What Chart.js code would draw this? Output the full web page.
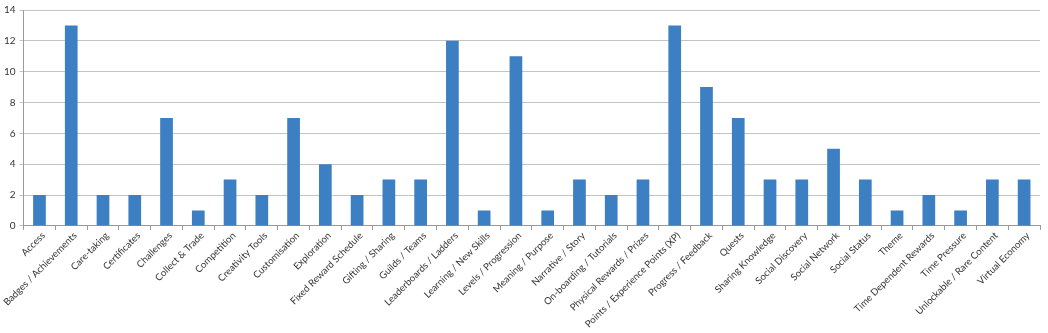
<!DOCTYPE html>
<html>
<head>
<meta charset="utf-8">
<script src="https://cdn.jsdelivr.net/npm/chart.js@4"></script>
<style>
  body { margin: 0; background: #fff; }
  #wrap { width: 1048px; height: 333px; }
</style>
</head>
<body>
<div id="wrap"><canvas id="chart" width="1048" height="333"></canvas></div>
<script>
const categories = [
    "Access", "Badges / Achievements", "Care-taking", "Certificates", "Challenges",
    "Collect & Trade", "Competition", "Creativity Tools", "Customisation", "Exploration",
    "Fixed Reward Schedule", "Gifting / Sharing", "Guilds / Teams", "Leaderboards / Ladders",
    "Learning / New Skills", "Levels / Progression", "Meaning / Purpose", "Narrative / Story",
    "On-boarding / Tutorials", "Physical Rewards / Prizes", "Points / Experience Points (XP)",
    "Progress / Feedback", "Quests", "Sharing Knowledge", "Social Discovery", "Social Network",
    "Social Status", "Theme", "Time Dependent Rewards", "Time Pressure",
    "Unlockable / Rare Content", "Virtual Economy"
];
const counts = [2, 13, 2, 2, 7, 1, 3, 2, 7, 4, 2, 3, 3, 12, 1, 11, 1, 3, 2, 3, 13, 9, 7, 3, 3, 5, 3, 1, 2, 1, 3, 3];
const yTicks = [0, 2, 4, 6, 8, 10, 12, 14];

const ctx = document.getElementById("chart").getContext("2d");
new Chart(ctx, {
    type: 'bar',
    data: {
        labels: categories,
        datasets: [{
            data: counts,
            backgroundColor: '#3C7FC3',
            barPercentage: 0.4,
            categoryPercentage: 1
        }]
    },
    options: {
        responsive: false,
        animation: false,
        layout: { padding: { top: -3, right: 8, left: 0, bottom: 3 } },
        plugins: { legend: { display: false }, tooltip: { enabled: false } },
        scales: {
            x: {
                grid: { offset: true, drawOnChartArea: false, color: '#9a9a9a', tickLength: 4 },
                border: { color: '#9a9a9a' },
                ticks: {
                    maxRotation: 45, minRotation: 45, autoSkip: false,
                    color: '#333', padding: 0, labelOffset: 4,
                    font: { family: 'Lato', size: 9.6 }
                }
            },
            y: {
                min: 0, max: 14,
                afterBuildTicks: axis => { axis.ticks = yTicks.map(v => ({ value: v })); },
                grid: { color: '#c4c4c4', tickLength: 4 },
                border: { color: '#9a9a9a' },
                ticks: {
                    color: '#333', padding: 4,
                    font: { family: 'Lato', size: 10 }
                }
            }
        }
    }
});
</script>
</body>
</html>
